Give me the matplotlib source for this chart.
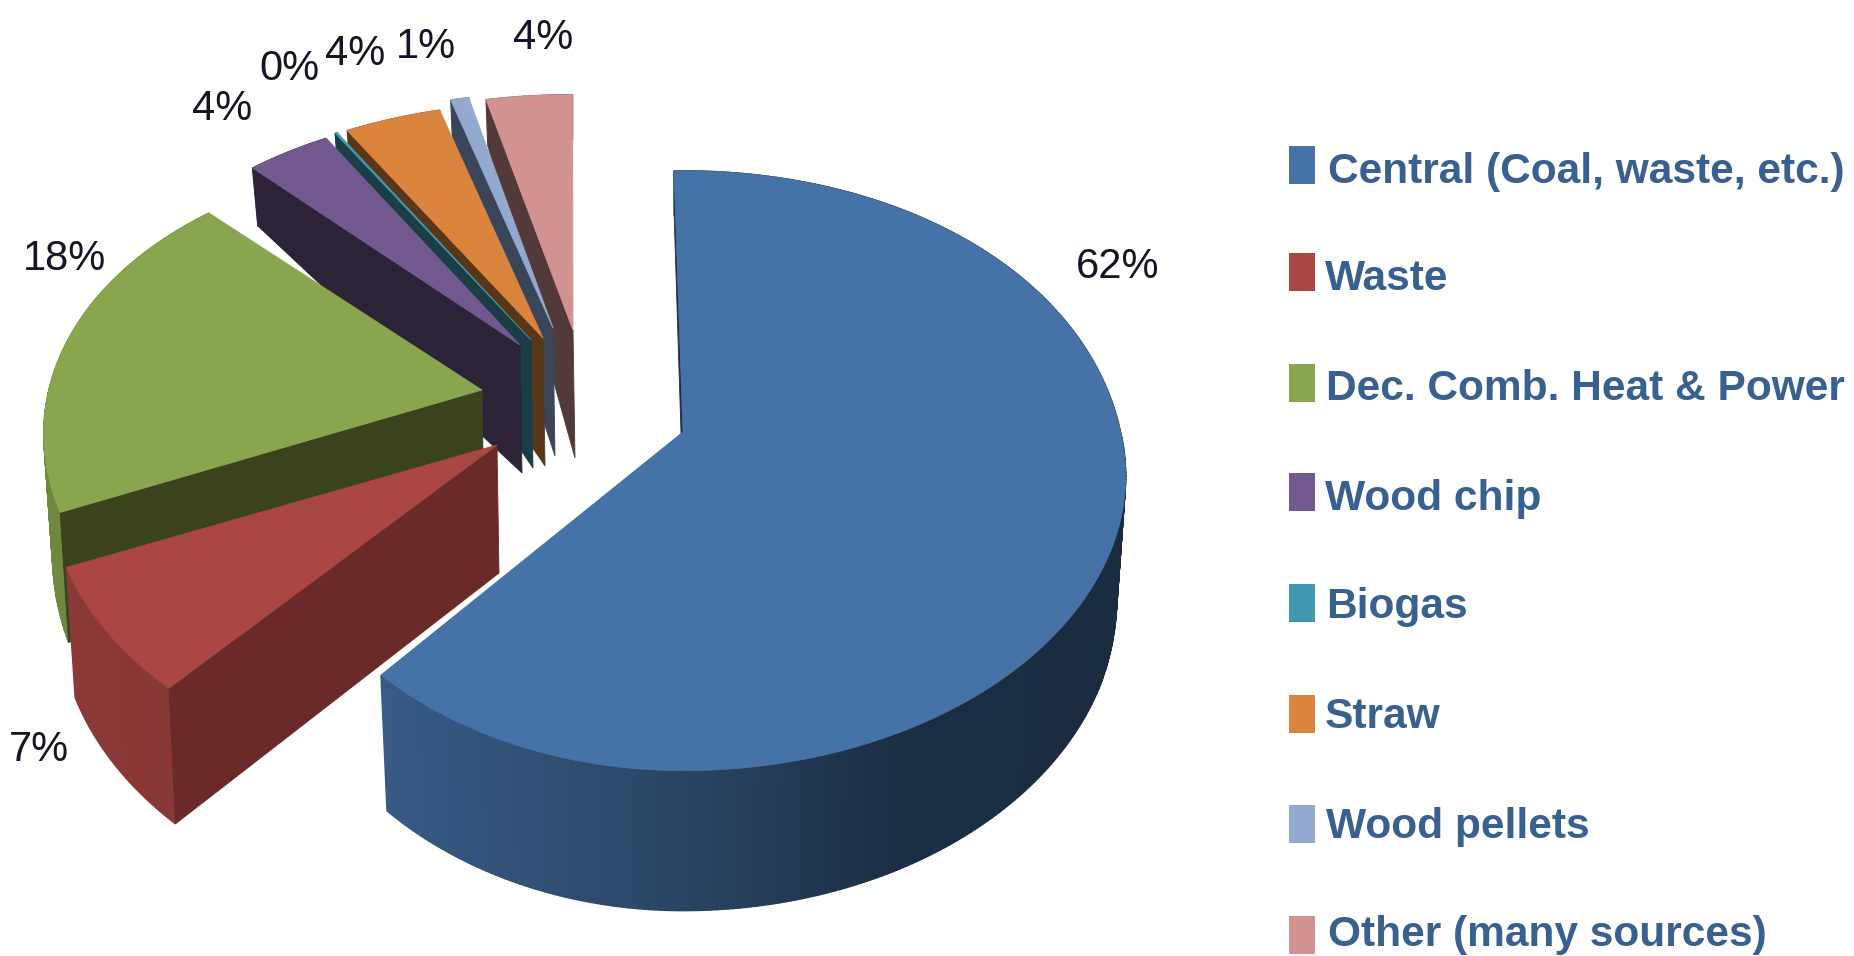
import numpy as np
import matplotlib
matplotlib.use("Agg")
import matplotlib.pyplot as plt
from matplotlib.patches import Rectangle

names = ["Central (Coal, waste, etc.)", "Waste", "Dec. Comb. Heat & Power", "Wood chip",
         "Biogas", "Straw", "Wood pellets", "Other (many sources)"]
shares = [62.0, 6.9, 19.0, 3.7, 0.1, 4.2, 0.8, 3.7]
pct_labels = ["62%", "7%", "18%", "4%", "0%", "4%", "1%", "4%"]

colors = ["#4572A7", "#AA4643", "#89A54E", "#71588F", "#4198AF", "#DB843D", "#93A9CF", "#D19392"]
face_colors = ["#1B2D45", "#6B2A2A", "#3A431E", "#2D2337", "#1A3D46", "#5A3618", "#3B4558", "#533A3A"]

# where each exploded slice has its point, in pixels of the picture
apex_x = [683, 497, 482, 520, 531, 543, 553, 573]
apex_y = [432, 445, 390, 345, 340, 338, 328, 330]
# small size corrections per slice
rx_scale = [0.99, 1.0, 0.98, 0.96, 0.97, 0.98, 0.97, 1.0]
left_scale = [0.93, 1.0, 1.0, 1.0, 1.0, 1.0, 1.0, 1.0]
far_scale = [1.11, 1.0, 1.0, 1.0, 1.0, 1.0, 1.0, 1.0]

label_x = [1118, 39, 65, 222, 289, 355, 426, 543]
label_y = [267, 750, 259, 109, 69, 54, 47, 38]

legend_y = [165, 272, 383, 492, 603, 714, 824, 935]
legend_base = [183, 290, 400, 510, 618, 728, 838, 946]
legend_text_x = [1328, 1325, 1326, 1325, 1326, 1325, 1326, 1328]
text_color = "#386090"

RX = 442
RY = 287
START = -1.5
APEX_DEPTH = 128


def project(theta, i):
    t = np.radians(theta)
    X, Y = np.sin(t), np.cos(t)
    sx = np.where(X < 0, left_scale[i], 1.0)
    x = apex_x[i] + X * RX * rx_scale[i] * sx * (1 - 0.155 * Y)
    ry = np.where(Y > 0, RY * far_scale[i], RY)
    y = apex_y[i] - Y * ry * (1 - 0.18 * Y)
    depth = np.interp(Y, [-1, -0.4, 0, 0.66, 1], [140, 130, 115, 60, 45])
    xb = apex_x[i] + (x - apex_x[i]) * 0.98
    return x, y, xb, y + depth, X


def shade(c, f):
    rgb = np.array(matplotlib.colors.to_rgb(c)) * f
    return tuple(rgb)


fig = plt.figure(figsize=(18.54, 9.56), dpi=100, facecolor="white")
ax = fig.add_axes([0, 0, 1, 1])
ax.set_xlim(0, 1854)
ax.set_ylim(956, 0)
ax.axis("off")

edges = START + np.cumsum([0] + shares) * 3.6

# painter's order: rear slices first, the big blue one last
for i in range(len(shares) - 1, -1, -1):
    a0, a1 = edges[i], edges[i + 1]
    n = max(int((a1 - a0) * 1.5), 2)
    th = np.linspace(a0, a1, n)
    x, y, xb, yb, X = project(th, i)

    # outer rim with shading from left to right
    f = np.interp(X, [-1, -0.66, 0, 0.45, 1], [0.82, 0.8, 0.6, 0.4, 0.38])
    for k in range(n - 1):
        col = shade(colors[i], f[k])
        ax.fill([x[k], x[k + 1], xb[k + 1], xb[k]], [y[k], y[k + 1], yb[k + 1], yb[k]],
                color=col, lw=1.0)

    # the cut face on the start side of the slice
    bx, by = apex_x[i] + 2, apex_y[i] + APEX_DEPTH
    ax.fill([x[0], apex_x[i], bx, xb[0]], [y[0], apex_y[i], by, yb[0]],
            color=face_colors[i], lw=0.6)

    # top
    ax.fill(np.r_[apex_x[i], x], np.r_[apex_y[i], y], color=colors[i], lw=0.6)

for i in range(len(pct_labels)):
    ax.text(label_x[i], label_y[i], pct_labels[i], ha="center", va="center", fontsize=30,
            color="#15152a", family="Liberation Sans")

for i in range(len(names)):
    ax.add_patch(Rectangle((1289, legend_y[i] - 19), 26, 38, color=colors[i], lw=0))
    ax.text(legend_text_x[i], legend_base[i], names[i], ha="left", va="baseline", fontsize=30.6,
            fontweight="bold", color=text_color, family="Liberation Sans")

plt.savefig("out.png", dpi=100)
plt.close()
